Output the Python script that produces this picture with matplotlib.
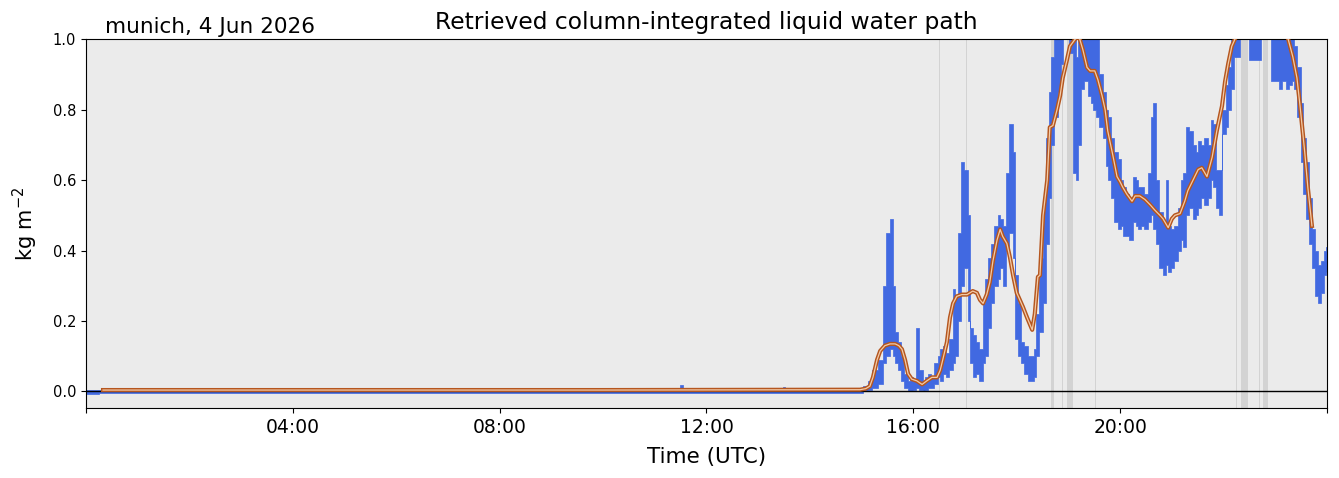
import matplotlib
matplotlib.use("Agg")
import matplotlib.pyplot as plt
from matplotlib.ticker import FixedLocator, FuncFormatter

# ---------------- data ----------------
site_label = "munich, 4 Jun 2026"
title = "Retrieved column-integrated liquid water path"

# retrieved LWP (kg m-2): time (hours UTC), lower / upper envelope of the 1-s samples
lwp_t = [0.00, 0.5, 1.0, 2.0, 3.0, 4.0, 5.0, 6.0, 7.0, 8.0, 9.0, 10.0, 11.0, 11.40,
         11.47, 11.52, 11.58, 12.0, 13.0, 13.45, 13.50, 13.55, 14.0, 14.5,
         14.76, 14.87, 14.97, 15.07, 15.16, 15.26, 15.36, 15.45, 15.51, 15.57,
         15.63, 15.68, 15.74, 15.80, 15.86, 15.92, 15.97, 16.03, 16.09, 16.15,
         16.21, 16.26, 16.32, 16.38, 16.44, 16.50, 16.55, 16.61, 16.67, 16.73,
         16.79, 16.84, 16.90, 16.96, 17.02, 17.08, 17.13, 17.19, 17.25, 17.31,
         17.37, 17.42, 17.48, 17.54, 17.60, 17.66, 17.71, 17.77, 17.83, 17.89,
         17.95, 18.00, 18.06, 18.12, 18.18, 18.24, 18.30, 18.35, 18.41, 18.47,
         18.53, 18.59, 18.64, 18.70, 18.76, 18.82, 18.88, 18.93, 18.99, 19.05,
         19.11, 19.17, 19.22, 19.28, 19.34, 19.40, 19.46, 19.51, 19.57, 19.63,
         19.69, 19.75, 19.80, 19.86, 19.92, 19.98, 20.04, 20.09, 20.15, 20.21,
         20.27, 20.33, 20.38, 20.44, 20.50, 20.56, 20.62, 20.67, 20.73, 20.79,
         20.85, 20.91, 20.96, 21.02, 21.08, 21.14, 21.20, 21.25, 21.31, 21.37,
         21.43, 21.49, 21.54, 21.60, 21.66, 21.72, 21.78, 21.83, 21.89, 21.95,
         22.01, 22.07, 22.12, 22.18, 22.24, 22.40, 22.57, 22.63, 22.80, 23.05,
         23.11, 23.17, 23.23, 23.29, 23.34, 23.40, 23.46, 23.52, 23.57, 23.63,
         23.69, 23.75, 23.80, 23.86, 23.92, 23.98, 24.00]
lwp_lo = [-0.006, -0.005, -0.005, -0.005, -0.005, -0.005, -0.005, -0.005, -0.005, -0.005,
          -0.005, -0.005, -0.005, -0.005,
          -0.004, -0.003, -0.004, -0.005, -0.005, -0.005, -0.004, -0.005, -0.005, -0.005,
          -0.004, -0.004, -0.003, 0.000, 0.005, 0.010, 0.020, 0.080, 0.100, 0.120,
          0.100, 0.080, 0.060, 0.030, 0.010, 0.000, 0.000, 0.005, 0.010, 0.005,
          0.000, 0.005, 0.010, 0.010, 0.020, 0.040, 0.030, 0.050, 0.040, 0.060,
          0.080, 0.100, 0.200, 0.300, 0.350, 0.200, 0.080, 0.040, 0.050, 0.030,
          0.080, 0.100, 0.180, 0.250, 0.300, 0.320, 0.350, 0.300, 0.400, 0.450,
          0.380, 0.150, 0.100, 0.080, 0.050, 0.030, 0.030, 0.040, 0.100, 0.170,
          0.250, 0.420, 0.550, 0.700, 0.780, 0.850, 0.930, 1.000, 1.000, 0.960,
          0.620, 0.600, 0.700, 0.860, 0.880, 0.840, 0.820, 0.800, 0.780, 0.750,
          0.720, 0.640, 0.600, 0.550, 0.480, 0.460, 0.470, 0.440, 0.440, 0.430,
          0.480, 0.470, 0.460, 0.470, 0.460, 0.480, 0.500, 0.460, 0.420, 0.350,
          0.330, 0.360, 0.340, 0.350, 0.370, 0.400, 0.430, 0.410, 0.500, 0.520,
          0.490, 0.500, 0.520, 0.550, 0.530, 0.550, 0.600, 0.580, 0.520, 0.500,
          0.730, 0.750, 0.800, 0.860, 0.950, 1.020, 0.940, 0.940, 1.020, 0.880,
          0.860, 0.880, 0.860, 0.870, 0.880, 0.860, 0.780, 0.650, 0.560, 0.490,
          0.420, 0.350, 0.270, 0.250, 0.280, 0.330, 0.340]
lwp_hi = [0.004, 0.005, 0.005, 0.005, 0.005, 0.005, 0.005, 0.005, 0.005, 0.006,
          0.005, 0.005, 0.005, 0.005,
          0.008, 0.017, 0.008, 0.005, 0.005, 0.006, 0.014, 0.006, 0.005, 0.005,
          0.004, 0.005, 0.008, 0.015, 0.030, 0.060, 0.090, 0.300, 0.450, 0.490,
          0.300, 0.170, 0.140, 0.100, 0.050, 0.030, 0.040, 0.030, 0.180, 0.060,
          0.030, 0.040, 0.050, 0.040, 0.080, 0.100, 0.120, 0.130, 0.110, 0.150,
          0.290, 0.270, 0.450, 0.650, 0.630, 0.500, 0.180, 0.160, 0.140, 0.120,
          0.250, 0.320, 0.380, 0.420, 0.470, 0.500, 0.490, 0.470, 0.620, 0.760,
          0.680, 0.330, 0.250, 0.140, 0.130, 0.100, 0.100, 0.120, 0.220, 0.380,
          0.550, 0.720, 0.850, 0.950, 1.050, 1.100, 1.100, 1.100, 1.100, 1.100,
          1.000, 0.950, 1.000, 1.050, 1.050, 1.050, 1.050, 1.050, 1.050, 0.900,
          0.850, 0.800, 0.780, 0.720, 0.680, 0.660, 0.600, 0.580, 0.560, 0.550,
          0.610, 0.600, 0.580, 0.580, 0.560, 0.620, 0.780, 0.820, 0.600, 0.510,
          0.480, 0.600, 0.470, 0.460, 0.470, 0.520, 0.600, 0.620, 0.750, 0.740,
          0.700, 0.680, 0.710, 0.700, 0.720, 0.700, 0.770, 0.760, 0.630, 0.630,
          0.800, 0.870, 0.920, 1.000, 1.100, 1.100, 1.100, 1.100, 1.100, 1.100,
          1.100, 1.100, 1.050, 1.050, 1.000, 0.980, 0.920, 0.820, 0.720, 0.650,
          0.550, 0.460, 0.400, 0.360, 0.370, 0.400, 0.410]

# smoothed LWP (kg m-2)
smooth_t = [0.33, 4.14, 9.94, 14.97, 15.08, 15.16, 15.22, 15.30, 15.36, 15.45, 15.55,
            15.65, 15.72, 15.78, 15.84, 15.90, 15.97, 16.07, 16.17, 16.26, 16.36,
            16.46, 16.52, 16.57, 16.65, 16.71, 16.77, 16.84, 16.94, 17.04, 17.15,
            17.23, 17.29, 17.35, 17.42, 17.48, 17.54, 17.62, 17.68, 17.73, 17.81,
            17.87, 17.93, 18.00, 18.06, 18.12, 18.20, 18.30, 18.35, 18.41, 18.45,
            18.51, 18.59, 18.64, 18.70, 18.78, 18.84, 18.89, 18.97, 19.03, 19.13,
            19.20, 19.28, 19.36, 19.42, 19.51, 19.57, 19.65, 19.71, 19.76, 19.86,
            19.94, 20.00, 20.05, 20.13, 20.23, 20.29, 20.38, 20.48, 20.58, 20.67,
            20.77, 20.83, 20.93, 21.00, 21.06, 21.16, 21.25, 21.31, 21.41, 21.51,
            21.58, 21.68, 21.78, 21.87, 21.97, 22.03, 22.09, 22.16, 22.22, 22.41,
            22.80, 23.09, 23.25, 23.34, 23.42, 23.48, 23.57, 23.63, 23.71]
smooth_v = [0.004, 0.004, 0.004, 0.005, 0.008, 0.015, 0.040, 0.090, 0.115, 0.130, 0.135,
            0.135, 0.130, 0.120, 0.090, 0.050, 0.035, 0.030, 0.020, 0.030, 0.040,
            0.040, 0.060, 0.090, 0.140, 0.210, 0.250, 0.270, 0.275, 0.275, 0.285,
            0.280, 0.260, 0.250, 0.275, 0.310, 0.370, 0.430, 0.460, 0.440, 0.420,
            0.380, 0.330, 0.280, 0.260, 0.240, 0.210, 0.175, 0.220, 0.325, 0.330,
            0.500, 0.600, 0.750, 0.755, 0.800, 0.840, 0.890, 0.940, 0.980, 1.000,
            1.010, 0.970, 0.920, 0.910, 0.910, 0.885, 0.840, 0.800, 0.740, 0.670,
            0.610, 0.595, 0.580, 0.560, 0.540, 0.555, 0.555, 0.545, 0.530, 0.515,
            0.500, 0.490, 0.465, 0.490, 0.500, 0.505, 0.540, 0.570, 0.600, 0.630,
            0.635, 0.610, 0.665, 0.740, 0.810, 0.880, 0.930, 0.980, 1.000, 1.050,
            1.080, 1.050, 1.000, 0.950, 0.890, 0.810, 0.680, 0.580, 0.470]

# rain-flag periods (hours UTC)
flag_start = [16.49, 17.01, 18.66, 18.88, 18.97, 19.52, 22.25, 22.34, 22.69, 22.76]
flag_end = [16.51, 17.03, 18.72, 18.90, 19.09, 19.54, 22.27, 22.47, 22.71, 22.86]

xtick_hours = [0, 4, 8, 12, 16, 20, 24]

# ---------------- plot ----------------
fig = plt.figure(figsize=(13.39, 4.78), dpi=100)
ax = fig.add_axes([0.0642, 0.1464, 0.991 - 0.0642, 0.918 - 0.1464])
ax.set_facecolor("#ebebeb")

for s, e in zip(flag_start, flag_end):
    ax.axvspan(s, e, color="#d3d3d3", lw=0, zorder=0.5)

ax.fill_between(lwp_t, lwp_lo, lwp_hi, step="mid", color="royalblue",
                edgecolor="royalblue", lw=0.5, zorder=2)
ax.axhline(0, color="black", lw=1.0, zorder=2.5)
ax.plot(smooth_t, smooth_v, color="#b5561f", lw=3.0, zorder=3, solid_joinstyle="round")
ax.plot(smooth_t, smooth_v, color="#f3cba8", lw=0.9, zorder=3.1, solid_joinstyle="round")

ax.set_xlim(0, 24)
ax.set_ylim(-0.047, 1.0)
ax.xaxis.set_major_locator(FixedLocator(xtick_hours))
ax.xaxis.set_major_formatter(FuncFormatter(
    lambda v, p: "" if v <= 0 or v >= 24 else f"{int(v):02d}:00"))
ax.set_yticks([0.0, 0.2, 0.4, 0.6, 0.8, 1.0])
ax.tick_params(axis="x", labelsize=13.5)
ax.tick_params(axis="y", labelsize=10.5)

ax.set_xlabel("Time (UTC)", fontsize=15.5, labelpad=7.5)
ax.set_ylabel("kg m$^{-2}$", fontsize=15, labelpad=9)
ax.set_title(title, fontsize=16.8, pad=7)
ax.text(0.015, 1.005, site_label, transform=ax.transAxes, fontsize=15.5,
        ha="left", va="bottom")

fig.savefig("out.png", dpi=100)
